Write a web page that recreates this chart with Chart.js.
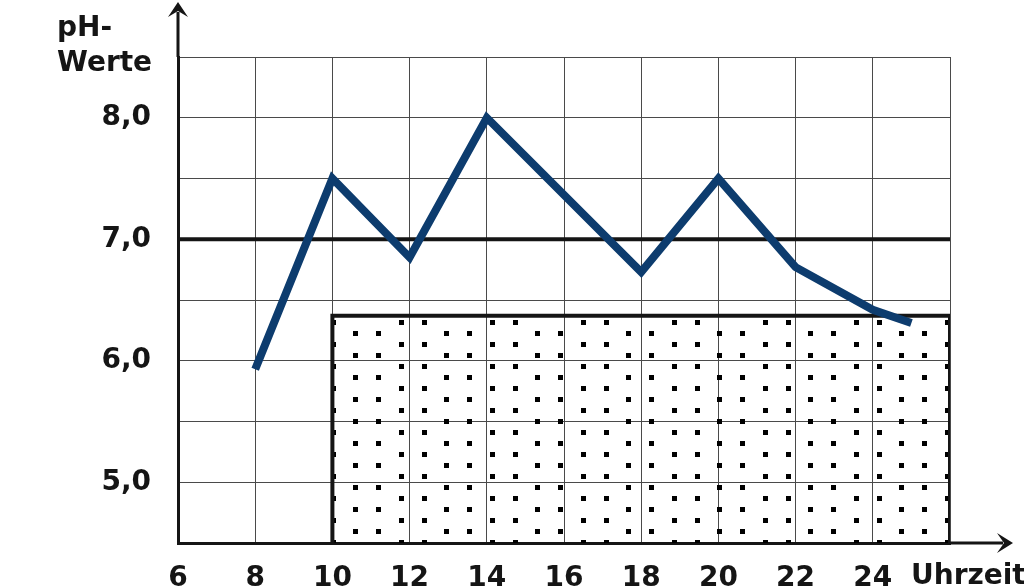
<!DOCTYPE html>
<html>
<head>
<meta charset="utf-8">
<script src="https://cdn.jsdelivr.net/npm/chart.js@4"></script>
<style>
  html, body { margin: 0; padding: 0; background: #fff; }
  #wrap { width: 1024px; height: 588px; }
</style>
</head>
<body>
<div id="wrap"><canvas id="myChart" width="1024" height="588"></canvas></div>
<script>
// Messwerte pH über den Tag
var hours = [8, 10, 12, 14, 18, 20, 22, 24, 25];
var phValues = [5.93, 7.5, 6.85, 8.0, 6.73, 7.5, 6.77, 6.42, 6.31];

// Referenzlinie und gepunkteter Bereich
var refLevel = 7.0;
var refRange = [6, 26];
var bandRange = [10, 26];
var bandTop = 6.37;

// Achsen
var xMin = 6, xMax = 26, xStep = 2;
var yMin = 4.5, yMax = 8.5, yStep = 0.5;
var xEndLabel = 'Uhrzeit';
var yTitle = ['pH-', 'Werte'];

var FONT = '"DejaVu Sans", Verdana, sans-serif';
var FSIZE = 28;
var INK = '#151515';

// Punktraster für den Bereich
function dotPattern() {
  var c = document.createElement('canvas');
  c.width = 91; c.height = 22;
  var g = c.getContext('2d');
  g.fillStyle = '#000';
  g.fillRect(58, 12, 5, 5);
  g.fillRect(80, 1, 5, 5);
  g.fillRect(12, 1, 5, 5);
  g.fillRect(35, 12, 5, 5);
  return g.createPattern(c, 'repeat');
}

var axisArrows = {
  id: 'axisArrows',
  afterDraw: function(chart) {
    var ctx = chart.ctx;
    var a = chart.chartArea;
    var x0 = a.left, y0 = a.bottom;
    ctx.save();
    ctx.strokeStyle = INK;
    ctx.fillStyle = INK;
    ctx.lineWidth = 3;
    ctx.beginPath();
    ctx.moveTo(x0, a.top);
    ctx.lineTo(x0, 12);
    ctx.moveTo(a.right, y0);
    ctx.lineTo(1003, y0);
    ctx.stroke();
    // Pfeilspitzen
    ctx.beginPath();
    ctx.moveTo(x0, 2);
    ctx.lineTo(x0 + 10, 17);
    ctx.lineTo(x0, 11);
    ctx.lineTo(x0 - 10, 17);
    ctx.closePath();
    ctx.fill();
    ctx.beginPath();
    ctx.moveTo(1013, y0);
    ctx.lineTo(997, y0 + 10);
    ctx.lineTo(1004, y0);
    ctx.lineTo(997, y0 - 10);
    ctx.closePath();
    ctx.fill();
    // Achsentitel
    ctx.font = 'bold ' + FSIZE + 'px ' + FONT;
    ctx.textAlign = 'left';
    ctx.textBaseline = 'alphabetic';
    ctx.fillText(yTitle[0], 57, 36);
    ctx.fillText(yTitle[1], 57, 71);
    ctx.fillText(xEndLabel, 911, 584);
    ctx.restore();
  }
};

var ctx = document.getElementById('myChart');
var myChart = new Chart(ctx, {
  type: 'scatter',
  data: {
    datasets: [{
      label: 'pH',
      data: hours.map(function(h, i) { return {x: h, y: phValues[i]}; }),
      showLine: true,
      borderColor: '#0d3c6e',
      borderWidth: 8,
      borderJoinStyle: 'miter',
      borderCapStyle: 'butt',
      pointRadius: 0,
      tension: 0,
      order: 0
    }, {
      label: 'Referenz',
      data: refRange.map(function(h) { return {x: h, y: refLevel}; }),
      showLine: true,
      borderColor: INK,
      borderWidth: 4,
      pointRadius: 0,
      order: 1
    }, {
      label: 'Bereich',
      data: [
        {x: bandRange[0], y: yMin},
        {x: bandRange[0], y: bandTop},
        {x: bandRange[1], y: bandTop},
        {x: bandRange[1], y: yMin}
      ],
      showLine: true,
      fill: 'start',
      backgroundColor: dotPattern(),
      borderColor: INK,
      borderWidth: 4,
      borderJoinStyle: 'miter',
      pointRadius: 0,
      order: 2
    }]
  },
  options: {
    responsive: false,
    devicePixelRatio: 1,
    animation: false,
    layout: { padding: { left: 0, top: 57, right: 74, bottom: 0 } },
    plugins: {
      legend: { display: false },
      tooltip: { enabled: false }
    },
    scales: {
      x: {
        type: 'linear',
        min: xMin, max: xMax,
        afterFit: function(s) { s.height = 45; },
        afterBuildTicks: function(s) {
          s.ticks = [];
          for (var v = xMin; v <= xMax; v += xStep) s.ticks.push({value: v});
        },
        ticks: {
          padding: 19,
          color: INK,
          font: { family: FONT, size: FSIZE, weight: 'bold' },
          maxRotation: 0,
          autoSkip: false,
          callback: function(v) { return v === xMax ? '' : String(v); }
        },
        grid: { color: '#4a4a4a', lineWidth: 1, drawTicks: false },
        border: { color: INK, width: 3 }
      },
      y: {
        type: 'linear',
        min: yMin, max: yMax,
        afterFit: function(s) { s.width = 178; },
        afterBuildTicks: function(s) {
          s.ticks = [];
          for (var v = yMin; v <= yMax + 1e-9; v += yStep) s.ticks.push({value: Math.round(v * 10) / 10});
        },
        ticks: {
          padding: 27,
          color: INK,
          font: { family: FONT, size: FSIZE, weight: 'bold' },
          autoSkip: false,
          callback: function(v) {
            if (Math.abs(v - Math.round(v)) > 1e-6) return '';
            return v.toFixed(1).replace('.', ',');
          }
        },
        grid: { color: '#4a4a4a', lineWidth: 1, drawTicks: false },
        border: { color: INK, width: 3 }
      }
    }
  },
  plugins: [axisArrows]
});
</script>
</body>
</html>
